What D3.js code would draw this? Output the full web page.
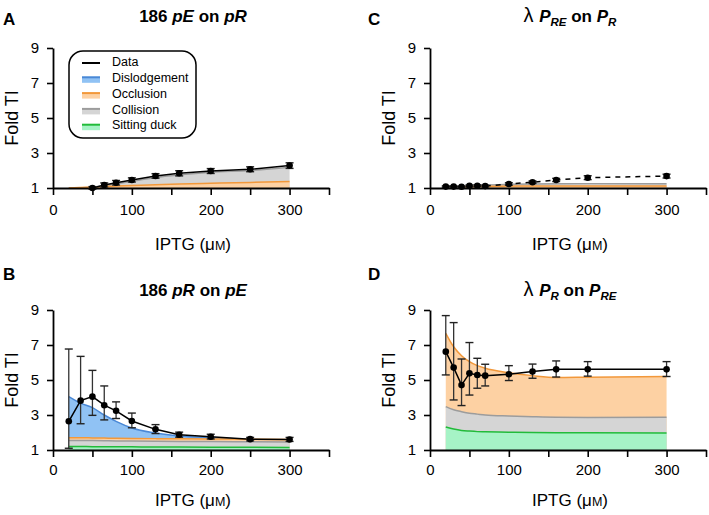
<!DOCTYPE html>
<html><head><meta charset="utf-8">
<script src="https://cdn.jsdelivr.net/npm/d3@7"></script>
<style>
body{margin:0;background:#fff}
svg{display:block}
text{font-family:"Liberation Sans",Arial,Helvetica,sans-serif;fill:#000}
</style>
</head><body>
<svg id="chart" width="709" height="515"></svg>
<script>
// ---------- data ----------
const xTickLabels = [0, 100, 200, 300];
const xTickMarks = [0, 50, 100, 150, 200, 250, 300, 350];
const yTicks = [1, 3, 5, 7, 9];
const legendNames = ["Data", "Dislodgement", "Occlusion", "Collision", "Sitting duck"];

// Panel A : 186 pE on pR
const xA = [50, 65, 80, 100, 130, 160, 200, 250, 300];
const dataA = [1.0, 1.17, 1.3, 1.46, 1.69, 1.84, 1.97, 2.07, 2.28];
const hiA = [1.08, 1.29, 1.43, 1.58, 1.82, 1.99, 2.11, 2.21, 2.44];
const loA = [0.93, 1.05, 1.17, 1.34, 1.56, 1.69, 1.83, 1.93, 2.12];
const mxA = [20, 35, 50, 65, 80, 100, 130, 160, 200, 250, 300];
const occA = [1.0, 1.03, 1.06, 1.09, 1.11, 1.14, 1.19, 1.23, 1.27, 1.32, 1.37];
const colA = [1.0, 1.01, 1.04, 1.13, 1.24, 1.38, 1.6, 1.75, 1.9, 2.0, 2.18];

// Panel B : 186 pR on pE
const xB = [20, 35, 50, 65, 80, 100, 130, 160, 200, 250, 300];
const dataB = [2.64, 3.82, 4.05, 3.56, 3.24, 2.66, 2.18, 1.87, 1.76, 1.62, 1.6];
const hiB = [6.77, 6.35, 5.55, 4.66, 3.75, 3.11, 2.45, 2.02, 1.9, 1.72, 1.72];
const loB = [1.1, 2.5, 2.98, 2.72, 2.8, 2.27, 1.94, 1.73, 1.63, 1.52, 1.49];
const mxB = [20, 35, 50, 65, 80, 100, 130, 160, 200, 250, 300];
const disB = [4.05, 3.68, 3.42, 3.0, 2.64, 2.26, 1.97, 1.8, 1.7, 1.6, 1.56];
const occB = [1.7, 1.7, 1.69, 1.68, 1.67, 1.66, 1.65, 1.64, 1.63, 1.62, 1.6];
const colB = [1.55, 1.55, 1.54, 1.53, 1.52, 1.51, 1.5, 1.49, 1.48, 1.47, 1.46];
const sdB = [1.2, 1.2, 1.19, 1.19, 1.18, 1.18, 1.17, 1.17, 1.16, 1.16, 1.15];

// Panel C : lambda PRE on PR
const xC = [20, 30, 40, 50, 60, 70, 100, 130, 160, 200, 300];
const dataC = [1.08, 1.08, 1.07, 1.12, 1.13, 1.11, 1.23, 1.33, 1.46, 1.59, 1.68];
const hiC = [1.12, 1.12, 1.11, 1.17, 1.18, 1.16, 1.3, 1.4, 1.55, 1.7, 1.79];
const loC = [1.04, 1.04, 1.03, 1.07, 1.08, 1.06, 1.16, 1.26, 1.37, 1.48, 1.57];
const mxC = [20, 30, 40, 50, 60, 70, 100, 130, 160, 200, 300];
const occC = [1.03, 1.05, 1.06, 1.08, 1.09, 1.1, 1.11, 1.12, 1.12, 1.12, 1.12];
const colC = [1.04, 1.06, 1.08, 1.11, 1.14, 1.17, 1.21, 1.23, 1.24, 1.25, 1.25];

// Panel D : lambda PR on PRE
const xD = [20, 30, 40, 50, 60, 70, 100, 130, 160, 200, 300];
const dataD = [6.62, 5.71, 4.71, 5.38, 5.29, 5.25, 5.33, 5.48, 5.61, 5.61, 5.61];
const hiD = [8.68, 8.28, 6.2, 7.14, 6.24, 5.9, 5.82, 5.91, 6.09, 6.05, 6.05];
const loD = [5.29, 3.86, 3.54, 4.14, 4.53, 4.66, 4.97, 5.1, 5.17, 5.22, 5.2];
const mxD = [20, 30, 40, 50, 60, 70, 100, 130, 160, 200, 300];
const occD = [7.67, 6.9, 6.39, 6.05, 5.82, 5.67, 5.42, 5.25, 5.14, 5.16, 5.2];
const colD = [3.48, 3.3, 3.19, 3.1, 3.05, 3.0, 2.94, 2.9, 2.87, 2.86, 2.87];
const sdD = [2.31, 2.2, 2.12, 2.08, 2.05, 2.04, 2.02, 2.0, 1.99, 1.98, 1.97];

// ---------- styles ----------
const colors = {
  "Dislodgement": {fill: "#90c2f4", line: "#4a88d6"},
  "Occlusion": {fill: "#fdd1a3", line: "#f2983a"},
  "Collision": {fill: "#d5d5d5", line: "#9c9c9c"},
  "Sitting duck": {fill: "#a6f3c6", line: "#22bb3a"}
};

const panels = [
  {letter: "A", px: 53, py: 48, lx: 3, ly: 25, ty: 22, pad: 9, xlab: 62,
   title: [{t: "186 "}, {t: "pE", i: 1}, {t: " on "}, {t: "pR", i: 1}],
   x: xA, d: dataA, hi: hiA, lo: loA, mx: mxA, dashed: false,
   series: {"Collision": colA, "Occlusion": occA}, legend: true},
  {letter: "C", px: 430, py: 48, lx: 368, ly: 25, ty: 22, pad: 9, xlab: 62,
   title: [{t: "λ ", n: 1}, {t: "P", i: 1}, {t: "RE", i: 1, s: 1}, {t: " on "}, {t: "P", i: 1}, {t: "R", i: 1, s: 1}],
   x: xC, d: dataC, hi: hiC, lo: loC, mx: mxC, dashed: true,
   series: {"Collision": colC, "Occlusion": occC}},
  {letter: "B", px: 53, py: 310, lx: 3, ly: 280, ty: 296, pad: 7, xlab: 56,
   title: [{t: "186 "}, {t: "pR", i: 1}, {t: " on "}, {t: "pE", i: 1}],
   x: xB, d: dataB, hi: hiB, lo: loB, mx: mxB, dashed: false,
   series: {"Dislodgement": disB, "Occlusion": occB, "Collision": colB, "Sitting duck": sdB}},
  {letter: "D", px: 430, py: 310, lx: 368, ly: 280, ty: 296, pad: 7, xlab: 56,
   title: [{t: "λ ", n: 1}, {t: "P", i: 1}, {t: "R", i: 1, s: 1}, {t: " on "}, {t: "P", i: 1}, {t: "RE", i: 1, s: 1}],
   x: xD, d: dataD, hi: hiD, lo: loD, mx: mxD, dashed: false,
   series: {"Occlusion": occD, "Collision": colD, "Sitting duck": sdD}}
];

const W = 276, H = 140;
const svg = d3.select("#chart");

panels.forEach(p => {
  const g = svg.append("g");
  const x = d3.scaleLinear().domain([0, 350]).range([p.px, p.px + W]);
  const y = d3.scaleLinear().domain([1, 9]).range([p.py + H, p.py]);

  // areas (largest first)
  const keys = Object.keys(p.series).sort((a, b) => d3.sum(p.series[b]) - d3.sum(p.series[a]));
  keys.forEach(k => {
    const pts = p.mx.map((xv, i) => [xv, p.series[k][i]]);
    const area = d3.area().x(d => x(d[0])).y0(y(1)).y1(d => y(d[1])).curve(d3.curveMonotoneX);
    const line = d3.line().x(d => x(d[0])).y(d => y(d[1])).curve(d3.curveMonotoneX);
    g.append("path").attr("d", area(pts)).attr("fill", colors[k].fill);
    g.append("path").attr("d", line(pts)).attr("fill", "none").attr("stroke", colors[k].line).attr("stroke-width", 1.5);
  });

  // axes
  const ax = g.append("g").attr("transform", `translate(0,${p.py + H})`)
    .call(d3.axisBottom(x).tickValues(xTickMarks).tickSize(7).tickSizeOuter(0).tickPadding(p.pad)
      .tickFormat(d => xTickLabels.includes(d) ? d : ""));
  const ay = g.append("g").attr("transform", `translate(${p.px},0)`)
    .call(d3.axisLeft(y).tickValues(yTicks).tickSize(6).tickSizeOuter(0).tickPadding(8));
  [ax, ay].forEach(a => {
    a.selectAll("path.domain").attr("stroke", "#000").attr("stroke-width", 1.8);
    a.selectAll(".tick line").attr("stroke", "#000").attr("stroke-width", 1.6);
    a.selectAll(".tick text").attr("font-size", 15).attr("font-family", '"Liberation Sans",Arial,sans-serif').attr("fill", "#000");
  });

  // data line
  const dpts = p.x.map((xv, i) => [xv, p.d[i]]);
  g.append("path").attr("d", d3.line().x(d => x(d[0])).y(d => y(d[1]))(dpts))
    .attr("fill", "none").attr("stroke", "#000").attr("stroke-width", 1.5)
    .attr("stroke-dasharray", p.dashed ? "5,5" : null);

  // error bars
  p.x.forEach((xv, i) => {
    const cx = x(xv);
    g.append("line").attr("x1", cx).attr("x2", cx).attr("y1", y(p.lo[i])).attr("y2", y(p.hi[i]))
      .attr("stroke", "#333").attr("stroke-width", 1.3);
    [p.lo[i], p.hi[i]].forEach(v => {
      g.append("line").attr("x1", cx - 4).attr("x2", cx + 4).attr("y1", y(v)).attr("y2", y(v))
        .attr("stroke", "#222").attr("stroke-width", 1.4);
    });
  });
  g.selectAll("circle.pt").data(dpts).enter().append("circle")
    .attr("cx", d => x(d[0])).attr("cy", d => y(d[1])).attr("r", 3.3).attr("fill", "#000");

  // axis titles
  g.append("text").attr("transform", `translate(${p.px - 40},${p.py + H / 2}) rotate(-90)`)
    .attr("text-anchor", "middle").attr("dominant-baseline", "middle").attr("font-size", 18).text("Fold TI");
  const xl = g.append("text").attr("x", p.px + W / 2 + 2).attr("y", p.py + H + p.xlab)
    .attr("text-anchor", "middle").attr("font-size", 17);
  xl.append("tspan").text("IPTG (μ");
  xl.append("tspan").attr("font-size", 12.5).text("M");
  xl.append("tspan").text(")");

  // panel letter
  g.append("text").attr("x", p.lx).attr("y", p.ly).attr("font-size", 17).attr("font-weight", "bold").text(p.letter);

  // title
  const tt = g.append("text").attr("x", p.px + W / 2 + 2).attr("y", p.ty).attr("text-anchor", "middle")
    .attr("font-size", 17).attr("font-weight", "bold");
  let shifted = false;
  p.title.forEach(part => {
    const ts = tt.append("tspan").text(part.t);
    if (part.i) ts.attr("font-style", "italic");
    if (part.n) ts.attr("font-weight", "normal").attr("font-size", 20);
    if (part.s) { ts.attr("font-size", 11.5).attr("dy", 4); shifted = true; }
    else if (shifted) { ts.attr("dy", -4); shifted = false; }
  });

  // legend
  if (p.legend) {
    const lg = g.append("g");
    lg.append("rect").attr("x", 69).attr("y", 51).attr("width", 127).attr("height", 87)
      .attr("rx", 14).attr("fill", "#fff").attr("stroke", "#000").attr("stroke-width", 1.5);
    legendNames.forEach((name, i) => {
      const ry = 63 + i * 15.8;
      if (name === "Data") {
        lg.append("line").attr("x1", 82).attr("x2", 100).attr("y1", ry).attr("y2", ry)
          .attr("stroke", "#000").attr("stroke-width", 2);
      } else {
        lg.append("rect").attr("x", 82).attr("y", ry - 2).attr("width", 18).attr("height", 6).attr("fill", colors[name].fill);
        lg.append("line").attr("x1", 82).attr("x2", 100).attr("y1", ry - 1.5).attr("y2", ry - 1.5)
          .attr("stroke", colors[name].line).attr("stroke-width", 2);
      }
      lg.append("text").attr("x", 112).attr("y", ry).attr("dominant-baseline", "middle")
        .attr("font-size", 12.5).text(name);
    });
  }
});
</script>
</body></html>
